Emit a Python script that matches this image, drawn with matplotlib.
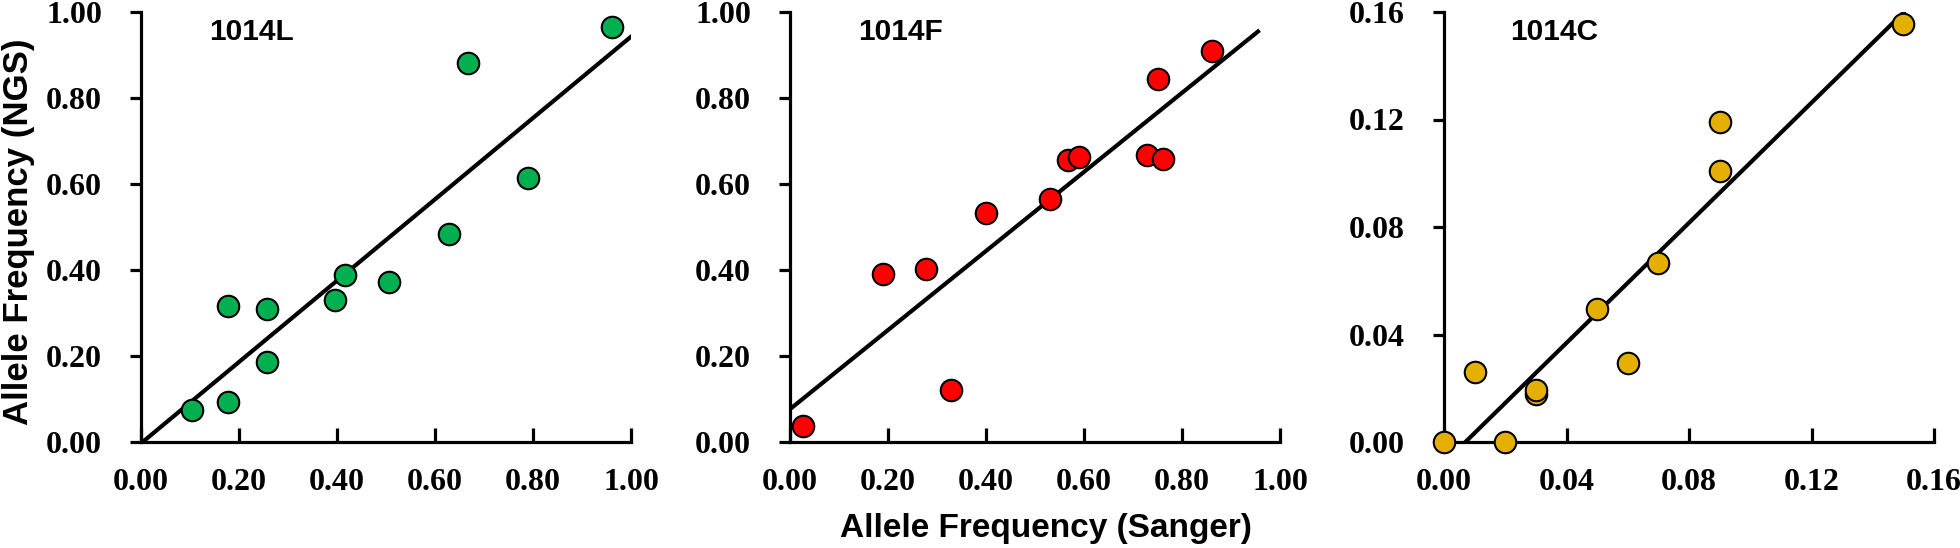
import numpy as np
import matplotlib
matplotlib.use("Agg")
import matplotlib.pyplot as plt
from matplotlib.ticker import FormatStrFormatter

# パネル名
panel_names = ["1014L", "1014F", "1014C"]
# 点の色
panel_colors = ["#00B050", "#FF0000", "#E5AF00"]

# 1014L
sanger_L = [0.105, 0.177, 0.177, 0.257, 0.257, 0.396, 0.417, 0.507, 0.629, 0.668, 0.790, 0.961]
ngs_L = [0.075, 0.093, 0.316, 0.309, 0.187, 0.331, 0.389, 0.371, 0.483, 0.882, 0.613, 0.965]
# 1014F
sanger_F = [0.027, 0.190, 0.278, 0.329, 0.399, 0.530, 0.568, 0.590, 0.728, 0.750, 0.761, 0.861]
ngs_F = [0.037, 0.390, 0.402, 0.122, 0.532, 0.566, 0.655, 0.662, 0.667, 0.844, 0.658, 0.909]
# 1014C
sanger_C = [0.000, 0.010, 0.020, 0.030, 0.030, 0.050, 0.060, 0.070, 0.090, 0.090, 0.150]
ngs_C = [0.000, 0.026, 0.000, 0.018, 0.0195, 0.0494, 0.0293, 0.0666, 0.101, 0.119, 0.1555]

# 軸の範囲と目盛り
axis_max = [1.0, 1.0, 0.16]
tick_list = [np.arange(0, 1.01, 0.2), np.arange(0, 1.01, 0.2), np.arange(0, 0.161, 0.04)]
# 近似直線の右端
line_x_end = [1.0, 0.955, 0.15]

xs = [sanger_L, sanger_F, sanger_C]
ys = [ngs_L, ngs_F, ngs_C]

W, H = 1960, 548
fig = plt.figure(figsize=(W / 100, H / 100), dpi=100)
lefts = [141, 790, 1444]
tick_font = {"family": "Liberation Serif", "weight": "bold", "size": 23}

for i in range(3):
    ax = fig.add_axes([lefts[i] / W, (H - 442) / H, 490 / W, 430 / H])
    x = np.array(xs[i])
    y = np.array(ys[i])
    # 近似直線
    a, b = np.polyfit(x, y, 1)
    lx = np.array([0, line_x_end[i]])
    ax.plot(lx, a * lx + b, color="black", lw=3.0, zorder=2)
    # 散布図
    ax.scatter(x, y, s=240, color=panel_colors[i], edgecolor="black",
               linewidth=1.5, zorder=3, clip_on=False)
    ax.set_xlim(0, axis_max[i])
    ax.set_ylim(0, axis_max[i])
    ax.set_xticks(tick_list[i])
    ax.set_yticks(tick_list[i])
    ax.xaxis.set_major_formatter(FormatStrFormatter("%.2f"))
    ax.yaxis.set_major_formatter(FormatStrFormatter("%.2f"))
    for lab in ax.get_xticklabels() + ax.get_yticklabels():
        lab.set_fontproperties(tick_font)
    ax.tick_params(axis="x", direction="in", length=10, width=2.3, pad=19)
    ax.tick_params(axis="y", direction="out", length=8, width=2.3, pad=20)
    for s in ["top", "right"]:
        ax.spines[s].set_visible(False)
    for s in ["left", "bottom"]:
        ax.spines[s].set_linewidth(2.3)
    ax.text(0.225, 0.953, panel_names[i], transform=ax.transAxes,
            ha="center", va="center", fontsize=21.5, fontweight="bold",
            family="Liberation Sans")

fig.text(19 / W, 1 - 232 / H, "Allele Frequency (NGS)", rotation=90,
         ha="center", va="center", fontsize=25, fontweight="bold",
         family="Liberation Sans")
fig.text(1046 / W, 1 - 529 / H, "Allele Frequency (Sanger)",
         ha="center", va="center", fontsize=24, fontweight="bold",
         family="Liberation Sans")

plt.savefig("out.png", dpi=100)
plt.close(fig)
